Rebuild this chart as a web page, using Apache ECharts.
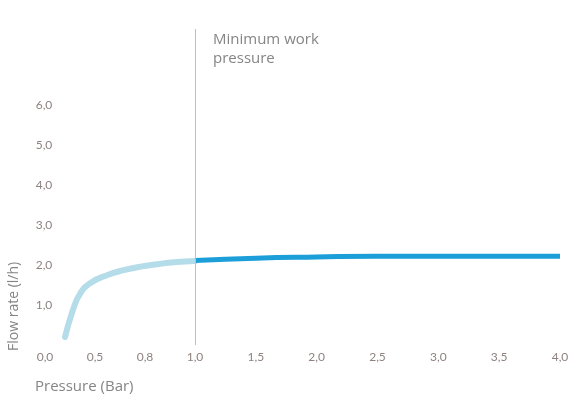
<!DOCTYPE html>
<html>
<head>
<meta charset="utf-8">
<script src="https://cdn.jsdelivr.net/npm/echarts@6/dist/echarts.min.js"></script>
<style>
html,body{margin:0;padding:0;background:#fff;}
#chart{width:579px;height:398px;}
</style>
</head>
<body>
<div id="chart"></div>
<script>
// Tick labels
const leftTickLabels = ['0,0', '0,5', '0,8', '1,0'];   // evenly spaced categories below 1 bar
const yTickValues = [1, 2, 3, 4, 5, 6];
// Sub-minimum region (x in tick-index units of the left axis)
const lowX = [0.40, 0.56, 0.70, 0.91, 1.25, 1.57, 1.91, 2.25, 2.58, 3.0];
const lowY = [0.20, 0.88, 1.28, 1.55, 1.75, 1.87, 1.96, 2.02, 2.07, 2.10];
// Working region (pressure in bar)
const workX = [1.0, 1.5, 2.0, 2.5, 3.0, 3.5, 4.0];
const workY = [2.11, 2.17, 2.20, 2.22, 2.22, 2.22, 2.22];
const minWorkPressure = 1.0;

const labelColor = '#8e8280';
const textColor = '#858585';
const fontFam = 'Lato, "Open Sans", sans-serif';
const nameFam = '"Open Sans", Lato, sans-serif';

const chart = echarts.init(document.getElementById('chart'));
const fmtNum = v => v.toFixed(1).replace('.', ',');

chart.setOption({
  animation: false,
  grid: [
    {left: 45, width: 150, top: 25, bottom: 53},
    {left: 195, right: 19, top: 25, bottom: 53}
  ],
  xAxis: [
    {
      gridIndex: 0, type: 'value', min: 0, max: leftTickLabels.length - 1, interval: 1,
      axisLine: {show: false}, axisTick: {show: false}, splitLine: {show: false},
      axisLabel: {color: labelColor, fontSize: 12, fontFamily: fontFam, margin: 6,
        formatter: v => leftTickLabels[Math.round(v)] || ''}
    },
    {
      gridIndex: 1, type: 'value', min: 1, max: 4, interval: 0.5,
      axisLine: {show: false}, axisTick: {show: false}, splitLine: {show: false},
      axisLabel: {color: labelColor, fontSize: 12, fontFamily: fontFam, margin: 6,
        showMinLabel: false, formatter: v => fmtNum(v)}
    }
  ],
  yAxis: [
    {
      gridIndex: 0, type: 'value', min: 0, max: 8, interval: 1,
      axisLine: {show: false}, axisTick: {show: false}, splitLine: {show: false},
      axisLabel: {color: labelColor, fontSize: 12, fontFamily: fontFam, align: 'center', margin: 1,
        formatter: v => yTickValues.includes(v) ? fmtNum(v) : ''}
    },
    {
      gridIndex: 1, type: 'value', min: 0, max: 8, interval: 1, show: false
    }
  ],
  series: [
    {
      type: 'line', xAxisIndex: 0, yAxisIndex: 0, smooth: true, showSymbol: false,
      lineStyle: {color: '#b4dce9', width: 6, cap: 'round'},
      data: lowX.map((x, i) => [x, lowY[i]])
    },
    {
      type: 'line', xAxisIndex: 1, yAxisIndex: 1, smooth: true, showSymbol: false,
      lineStyle: {color: '#1c9fd9', width: 5},
      data: workX.map((x, i) => [x, workY[i]]),
      markLine: {
        silent: true, symbol: 'none', label: {show: false},
        lineStyle: {color: '#c8bcb9', width: 1, type: 'solid'},
        data: [[{coord: [minWorkPressure, 0]}, {coord: [minWorkPressure, 7.9]}]]
      },
      z: 3
    }
  ],
  graphic: [
    {type: 'text', left: 213, top: 30, style: {text: 'Minimum work\npressure', fill: textColor, font: '15px ' + nameFam, lineHeight: 19}},
    {type: 'text', left: 35, top: 379, style: {text: 'Pressure (Bar)', fill: textColor, font: '15px ' + nameFam}},
    {type: 'text', x: 7, y: 351, rotation: Math.PI / 2, style: {text: 'Flow rate (l/h)', fill: textColor, font: '14px ' + nameFam, align: 'left', verticalAlign: 'top'}}
  ]
});
</script>
</body>
</html>
